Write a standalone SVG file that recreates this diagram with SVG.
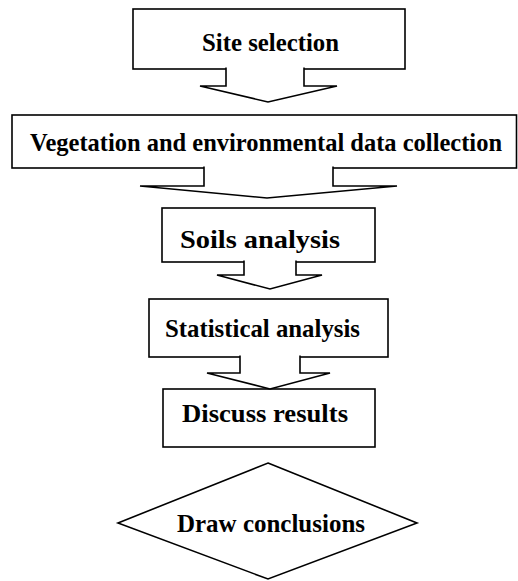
<svg xmlns="http://www.w3.org/2000/svg" width="518" height="581" viewBox="0 0 518 581">
<style>
.box{fill:#fff;stroke:#000;stroke-width:1.6}
.arr{fill:#fff;stroke:#000;stroke-width:1.6;stroke-linejoin:miter}
.lbl{font-family:"Liberation Serif","Times New Roman",serif;font-weight:bold;font-size:26px;fill:#000}
.sm{font-size:25px}
</style>
<rect width="518" height="581" fill="#fff"/>
<g id="n1"><rect class="box" x="133" y="9" width="272" height="60"/><text class="lbl" x="202" y="51" textLength="137" lengthAdjust="spacingAndGlyphs">Site selection</text></g>
<g id="n2"><rect class="box" x="12" y="115" width="504.5" height="53"/><text class="lbl sm" x="30" y="151" textLength="472" lengthAdjust="spacingAndGlyphs">Vegetation and environmental data collection</text></g>
<g id="n3"><rect class="box" x="162" y="208" width="213" height="54"/><text class="lbl" x="180" y="248" textLength="160" lengthAdjust="spacingAndGlyphs">Soils analysis</text></g>
<g id="n4"><rect class="box" x="149" y="299" width="239" height="58"/><text class="lbl" x="165" y="337" textLength="195" lengthAdjust="spacingAndGlyphs">Statistical analysis</text></g>
<g id="n5"><rect class="box" x="163" y="389" width="212" height="58"/><text class="lbl" x="182" y="422" textLength="166" lengthAdjust="spacingAndGlyphs">Discuss results</text></g>
<g id="n6"><polygon class="box" points="268,463 417,523 268,579 118,523"/><text class="lbl" x="177" y="532" textLength="188" lengthAdjust="spacingAndGlyphs">Draw conclusions</text></g>
<g id="connectors">
<path class="arr" d="M226,67.5 V86 H200 L268,102 L337,86 H304 V67.5"/>
<path class="arr" d="M204,166.5 V186 H140 L267,198 L397,186 H333 V166.5"/>
<path class="arr" d="M244,260.5 V275 H217 L270,289 L322,275 H296 V260.5"/>
<path class="arr" d="M240,355.5 V373 H207 L270,389 L330,373 H300 V355.5"/>
</g>
</svg>
